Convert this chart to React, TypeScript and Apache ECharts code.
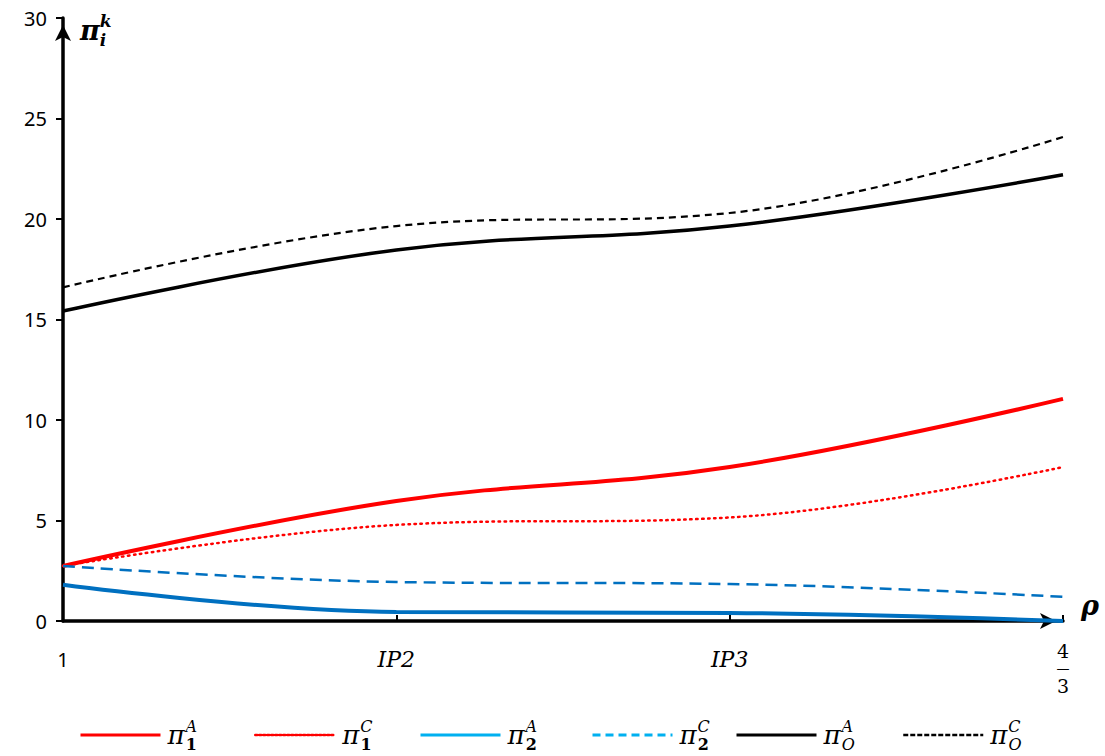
import React, { useEffect, useRef } from "react";
import * as echarts from "echarts";

const xTicks = [0, 1, 2, 3];
const xLabels = ["1", "IP2", "IP3", "4/3"];
const yTicks = [0, 5, 10, 15, 20, 25, 30];

const pi1A = [2.74, 5.97, 7.66, 11.05];
const pi1C = [2.74, 4.78, 5.15, 7.66];
const pi2A = [1.8, 0.45, 0.4, 0.0];
const pi2C = [2.74, 1.94, 1.84, 1.2];
const piOA = [15.42, 18.46, 19.65, 22.2];
const piOC = [16.6, 19.65, 20.3, 24.08];

const names = ["pi1A", "pi1C", "pi2A", "pi2C", "piOA", "piOC"];
const subs = ["1", "1", "2", "2", "O", "O"];
const sups = ["A", "C", "A", "C", "A", "C"];

export default function App() {
  const ref = useRef<HTMLDivElement>(null);
  useEffect(() => {
    const chart = echarts.init(ref.current!, undefined, { renderer: "svg" });
    const serif = "'DejaVu Serif', 'Liberation Serif', serif";
    const mk = (name: string, data: number[], color: string, width: number, type: any, cap = "butt") => ({
      name,
      type: "line",
      data: data.map((v, i) => [xTicks[i], v]),
      smooth: 0.4,
      symbol: "none",
      lineStyle: { color, width, type, cap },
      itemStyle: { color },
      z: 3,
    });
    const legendColors = ["#ff0000", "#ff0000", "#00b0f0", "#00b0f0", "#000000", "#000000"];
    const legendTypes: any[] = ["solid", [2, 2], "solid", [8, 5], "solid", [5, 2]];
    const legendWidths = [3, 2.5, 3, 3, 3, 2.5];
    const legendLeft = [74, 249, 414, 586, 730, 897];
    const legends = names.map((n, i) => ({
      show: true,
      left: legendLeft[i],
      top: 713,
      itemWidth: 80,
      itemHeight: 14,
      itemGap: 0,
      data: [
        {
          name: n,
          itemStyle: { opacity: 0 },
          lineStyle: { color: legendColors[i], width: legendWidths[i], type: legendTypes[i] },
        },
      ],
      formatter: () => `{p|π}{u|${sups[i]}}{d|${subs[i]}}`,
      textStyle: {
        rich: {
          p: { fontFamily: serif, fontStyle: "italic", fontSize: 26, lineHeight: 34, color: "#000", padding: [0, 1, 0, 2] },
          u: { fontFamily: serif, fontStyle: "italic", fontSize: 16, lineHeight: 16, verticalAlign: "top", width: 0.1, color: "#000" },
          d: { fontFamily: serif, fontStyle: subs[i] === "O" ? "italic" : "normal", fontSize: 16, lineHeight: 14, verticalAlign: "bottom", color: "#000", fontWeight: subs[i] === "O" ? "normal" : "bold" },
        },
      },
    }));
    chart.setOption({
      animation: false,
      grid: { left: 63, right: 42, top: 18, bottom: 135 },
      legend: legends,
      xAxis: {
        type: "value",
        min: 0,
        max: 3,
        interval: 1,
        axisLine: { show: true, lineStyle: { color: "#000", width: 3.5 }, symbol: ["none", "arrow"], symbolSize: [12, 16], symbolOffset: [0, -7] },
        axisTick: { show: true, inside: true, length: 6, lineStyle: { color: "#000", width: 2 } },
        splitLine: { show: false },
        axisLabel: {
          margin: 20,
          formatter: (v: number) => {
            const idx = xTicks.indexOf(v);
            const t = xLabels[idx];
            if (idx === 0) return `{n|${t}}`;
            if (idx === 3) {
              const [a, b] = t.split("/");
              return `{f|${a}}\n{b|—}\n{f|${b}}`;
            }
            return `{r|${t}}`;
          },
          rich: {
            n: { fontFamily: "'Noto Sans', sans-serif", fontSize: 20, lineHeight: 36, color: "#000" },
            r: { fontFamily: serif, fontStyle: "italic", fontSize: 22, lineHeight: 36, color: "#000" },
            f: { fontFamily: serif, fontSize: 19, lineHeight: 19, color: "#000" },
            b: { fontFamily: serif, fontSize: 13, lineHeight: 16, color: "#000" },
          },
        },
      },
      yAxis: {
        type: "value",
        min: 0,
        max: 30,
        interval: 5,
        axisLine: { show: true, lineStyle: { color: "#000", width: 3.5 }, symbol: ["none", "arrow"], symbolSize: [12, 16], symbolOffset: [0, -7] },
        axisTick: { show: true, length: 7, lineStyle: { color: "#000", width: 2 } },
        splitLine: { show: false },
        axisLabel: {
          margin: 16,
          fontFamily: "'Noto Sans', sans-serif",
          fontSize: 20,
          color: "#000",
          formatter: (v: number) => (yTicks.includes(v) ? String(v) : ""),
        },
      },
      graphic: [
        {
          type: "text",
          left: 80,
          top: 12,
          style: {
            text: "{p|π}{u|k}{d|i}",
            rich: {
              p: { fontFamily: serif, fontStyle: "italic", fontWeight: "bold", fontSize: 27, lineHeight: 36, fill: "#000" },
              u: { fontFamily: serif, fontStyle: "italic", fontWeight: "bold", fontSize: 17, lineHeight: 18, verticalAlign: "top", width: 0.1, fill: "#000" },
              d: { fontFamily: serif, fontStyle: "italic", fontWeight: "bold", fontSize: 17, lineHeight: 16, verticalAlign: "bottom", fill: "#000" },
            },
          },
        },
        {
          type: "text",
          left: 1081,
          top: 592,
          style: { text: "ρ", fontFamily: serif, fontStyle: "italic", fontWeight: "bold", fontSize: 27, fill: "#000" },
        },
      ],
      series: [
        mk("pi1A", pi1A, "#ff0000", 4, "solid"),
        mk("pi1C", pi1C, "#ff0000", 2.5, [1.5, 4.5], "round"),
        mk("pi2A", pi2A, "#0070c0", 4, "solid"),
        mk("pi2C", pi2C, "#0070c0", 2.5, [12, 7]),
        mk("piOA", piOA, "#000000", 3.5, "solid"),
        mk("piOC", piOC, "#000000", 2.2, [7, 5]),
      ],
    });
    return () => chart.dispose();
  }, []);
  return <div ref={ref} style={{ position: "fixed", left: 0, top: 0, width: 1105, height: 756, background: "#fff" }} />;
}
